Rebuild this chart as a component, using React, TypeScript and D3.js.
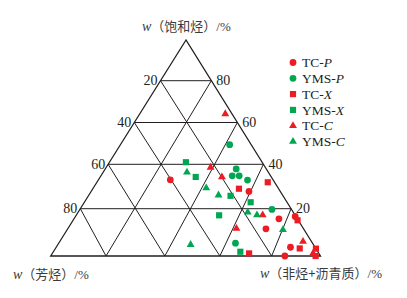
import React from 'react';
import * as d3 from 'd3';

// [saturate, aromatic, resin+asphaltene] in %
const tcP = [[33.0,40.9,26.1],[27.8,13.2,59.0],[15.7,7.7,76.6],[16.7,0.3,83.0],[11.5,15.6,72.9],[3.7,10.1,86.2],[0,14.6,85.4]];
const ymsP = [[49.4,9.2,41.4],[37.9,12.8,49.3],[34.8,16.1,49.1],[34.8,13.3,51.9],[32.9,10.9,56.2],[19.7,8.2,72.1],[5.4,31.0,63.6]];
const tcX = [[29.0,16.6,54.4],[31.9,2.9,65.2],[15.1,0.3,84.6],[3.2,6.6,90.2],[1.1,28.1,70.8],[3.1,0,96.9],[0,2,98]];
const ymsX = [[41.0,30.9,28.1],[34.3,30.7,35.0],[25.8,21.7,52.5],[22.9,15.3,61.8],[17.2,30.9,51.9],[1.8,31.1,67.1]];
const tcC = [[64.1,2.9,33.0],[38.6,22.7,38.7],[34.3,20.5,45.2],[17.3,13.5,69.1],[11.6,27.2,61.2],[6.1,3.5,90.4],[1.1,2.4,96.5]];
const ymsC = [[36.4,32.9,30.7],[29.3,29.4,41.3],[26.1,26.3,47.6],[18.5,18.9,62.6],[17.3,15.9,66.8],[11.1,8.8,80.1],[4.8,48.1,47.1]];

const gridTicks = [20, 40, 60, 80];
const seriesLabels = [
  { pre: 'TC-', it: 'P' }, { pre: 'YMS-', it: 'P' },
  { pre: 'TC-', it: 'X' }, { pre: 'YMS-', it: 'X' },
  { pre: 'TC-', it: 'C' }, { pre: 'YMS-', it: 'C' },
];

const RED = '#ec1c24';
const GREEN = '#00a651';
const INK = '#231f20';

const series = [
  { data: tcP, color: RED, shape: d3.symbolCircle, size: 36 },
  { data: ymsP, color: GREEN, shape: d3.symbolCircle, size: 36 },
  { data: tcX, color: RED, shape: d3.symbolSquare, size: 38 },
  { data: ymsX, color: GREEN, shape: d3.symbolSquare, size: 38 },
  { data: tcC, color: RED, shape: d3.symbolTriangle, size: 27 },
  { data: ymsC, color: GREEN, shape: d3.symbolTriangle, size: 27 },
];

const yScale = d3.scaleLinear().domain([0, 20, 40, 60, 80, 100]).range([256, 208.7, 164.3, 122.5, 80.7, 40]);
const fracScale = d3.scaleLinear().domain([0, 0.2, 0.4, 0.6, 0.8, 1]).range([0, 0.205, 0.423, 0.627, 0.819, 1]);
const leftEdge = d3.scaleLinear().domain([40, 256]).range([186, 50.7]);
const rightEdge = d3.scaleLinear().domain([40, 256]).range([186, 320.5]);

function project(S: number, A: number, R: number): [number, number] {
  const y = yScale(S);
  const t = A + R > 0 ? R / (A + R) : 0.5;
  const xl = leftEdge(y);
  const xr = rightEdge(y);
  return [xl + fracScale(t) * (xr - xl), y];
}

const serif = '"Liberation Serif", "Times New Roman", serif';
const cjk = '"Noto Sans CJK SC", sans-serif';

export default function App() {
  const top = project(100, 0, 0);
  const bl = project(0, 100, 0);
  const br = project(0, 0, 100);
  const lines: [number, number][][] = [];
  gridTicks.forEach((v) => {
    lines.push([project(v, 100 - v, 0), project(v, 0, 100 - v)]);
    lines.push([project(0, 100 - v, v), project(100 - v, 0, v)]);
    lines.push([project(0, v, 100 - v), project(100 - v, v, 0)]);
  });
  const legendY = d3.scaleLinear().domain([0, 5]).range([62.5, 141.5]);
  return (
    <svg width={407} height={298} style={{ position: 'absolute', left: 0, top: 0, background: '#fff' }}>
      <g stroke={INK} strokeWidth={1} fill="none">
        {lines.map((l, i) => (
          <line key={i} x1={l[0][0]} y1={l[0][1]} x2={l[1][0]} y2={l[1][1]} />
        ))}
        <path d={`M${top[0]},${top[1]}L${bl[0]},${bl[1]}L${br[0]},${br[1]}Z`} strokeWidth={1.3} strokeLinejoin="miter" />
      </g>
      <g fontFamily={serif} fontSize={14} fill={INK}>
        {gridTicks.map((v) => {
          const [x, y] = project(v, 100 - v, 0);
          return (
            <text key={'l' + v} x={x - 3} y={y} textAnchor="end" dominantBaseline="central">{100 - v}</text>
          );
        })}
        {gridTicks.map((v) => {
          const [x, y] = project(v, 0, 100 - v);
          return (
            <text key={'r' + v} x={x + 5} y={y} textAnchor="start" dominantBaseline="central">{v}</text>
          );
        })}
      </g>
      {series.map((s, si) => (
        <g key={si} fill={s.color}>
          {s.data.map((d, i) => {
            const [x, y] = project(d[0], d[1], d[2]);
            return <path key={i} transform={`translate(${x},${y})`} d={d3.symbol().type(s.shape).size(s.size)() as string} />;
          })}
        </g>
      ))}
      <g>
        {series.map((s, si) => {
          const y = legendY(si);
          return (
            <g key={si}>
              <path transform={`translate(293,${y})`} fill={s.color} d={d3.symbol().type(s.shape).size(s.size)() as string} />
              <text x={302} y={y + 4.6} fontFamily={serif} fontSize={13.5} fill={INK}>
                {seriesLabels[si].pre}
                <tspan fontStyle="italic">{seriesLabels[si].it}</tspan>
              </text>
            </g>
          );
        })}
      </g>
      <g fill="#3a3a3a" fontSize={13}>
        <text x={142} y={30.5}>
          <tspan fontFamily={serif} fontStyle="italic" fontSize={14}>w</tspan>
          <tspan fontFamily={cjk}>（饱和烃）</tspan>
          <tspan fontFamily={serif} fontSize={13}>/%</tspan>
        </text>
        <text x={13} y={278.5}>
          <tspan fontFamily={serif} fontStyle="italic" fontSize={14}>w</tspan>
          <tspan fontFamily={cjk}>（芳烃）</tspan>
          <tspan fontFamily={serif} fontSize={13}>/%</tspan>
        </text>
        <text x={260} y={277.5}>
          <tspan fontFamily={serif} fontStyle="italic" fontSize={14}>w</tspan>
          <tspan fontFamily={cjk}>（非烃+沥青质）</tspan>
          <tspan fontFamily={serif} fontSize={13}>/%</tspan>
        </text>
      </g>
    </svg>
  );
}
